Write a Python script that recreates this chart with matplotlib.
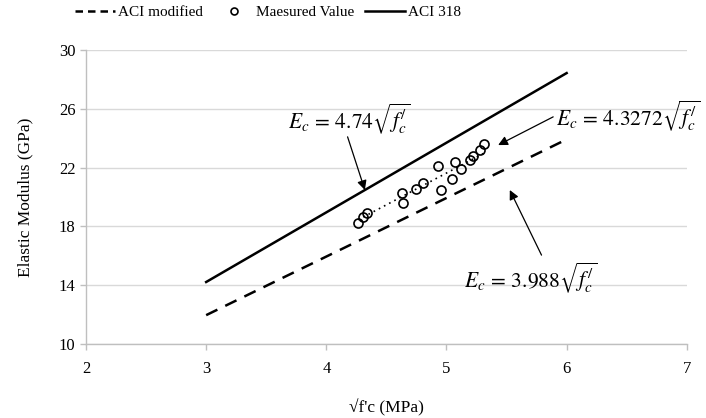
import numpy as np
import matplotlib
matplotlib.use("Agg")
import matplotlib.pyplot as plt
from matplotlib.lines import Line2D

# ---- data ----
sqrt_fc = [4.265, 4.307, 4.335, 4.626, 4.640, 4.743, 4.806, 4.931, 4.951,
           5.042, 5.070, 5.117, 5.195, 5.222, 5.278, 5.314]
modulus = [18.21, 18.66, 18.89, 20.29, 19.57, 20.52, 20.93, 22.11, 20.48,
           21.20, 22.40, 21.88, 22.52, 22.79, 23.20, 23.61]
line_x = [3, 6]
coef_aci318 = 4.74
coef_modified = 3.988
coef_fit = 4.3272
x_ticks = [2, 3, 4, 5, 6, 7]
y_ticks = [10, 14, 18, 22, 26, 30]

plt.rcParams['font.family'] = ['Liberation Serif', 'DejaVu Serif']
plt.rcParams['mathtext.fontset'] = 'stix'

fig = plt.figure(figsize=(7.06, 4.18), dpi=100)
ax = fig.add_axes([0.1218, 0.177, 0.851, 0.703])

lx = np.array(line_x, dtype=float)
ax.plot(lx, coef_modified * lx, color='black', lw=1.8, ls=(0, (5, 3.5)), zorder=3)
ax.plot(lx, coef_aci318 * lx, color='black', lw=1.8, zorder=3)
fx = np.array([min(sqrt_fc), max(sqrt_fc)])
ax.plot(fx, coef_fit * fx, color='black', lw=1.2, ls=(0, (1, 2.5)), zorder=2)
ax.plot(sqrt_fc, modulus, ls='none', marker='o', ms=6.5, mfc='none',
        mec='black', mew=1.2, zorder=4)

ax.set_xlim(2, 7)
ax.set_ylim(10, 30)
ax.set_xticks(x_ticks)
ax.set_yticks(y_ticks)
ax.grid(axis='y', color='#d9d9d9', lw=1.0)
ax.set_axisbelow(True)
for s in ['top', 'right']:
    ax.spines[s].set_visible(False)
for s in ['left', 'bottom']:
    ax.spines[s].set_color('#bfbfbf')
    ax.spines[s].set_linewidth(1.0)
ax.tick_params(axis='both', colors='#bfbfbf', labelcolor='black',
               labelsize=12, length=4, width=1.0)
ax.tick_params(axis='x', pad=8)

ax.set_ylabel('Elastic Modulus (GPa)', fontsize=12.5, labelpad=18)
ax.set_xlabel("√f'c (MPa)", fontsize=12.5, labelpad=16)

arrow = dict(arrowstyle='-|>', color='black', lw=0.9,
             mutation_scale=14, shrinkA=0, shrinkB=0)
txt_kw = dict(fontsize=15.5, ha='left', va='center', clip_on=False)

ax.text(3.68, 25.35, r'$E_c\,=\,4.74\sqrt{f_c^{/}}$', **txt_kw)
ax.annotate('', xy=(4.321, 20.48), xytext=(4.177, 24.10), arrowprops=arrow)
ax.text(5.915, 25.55, r'$E_c\,=\,4.3272\sqrt{f_c^{/}}$', **txt_kw)
ax.annotate('', xy=(5.43, 23.54), xytext=(5.888, 25.46), arrowprops=arrow)
ax.text(5.15, 14.5, r'$E_c\,=\,3.988\sqrt{f_c^{/}}$', **txt_kw)
ax.annotate('', xy=(5.527, 20.48), xytext=(5.791, 16.05), arrowprops=arrow)

handles = [Line2D([], [], color='black', lw=1.8, ls=(0, (3, 2))),
           Line2D([], [], ls='none', marker='o', ms=5, mfc='none', mec='black', mew=1.2),
           Line2D([], [], color='black', lw=1.8)]
labels = ['ACI modified', 'Maesured Value', 'ACI 318']
fig.legend(handles, labels, loc='center', bbox_to_anchor=(0.38, 0.97), ncol=3,
           frameon=False, fontsize=11, handlelength=2.6, handletextpad=0.2,
           columnspacing=0.7)

fig.savefig('out.png', dpi=100)
